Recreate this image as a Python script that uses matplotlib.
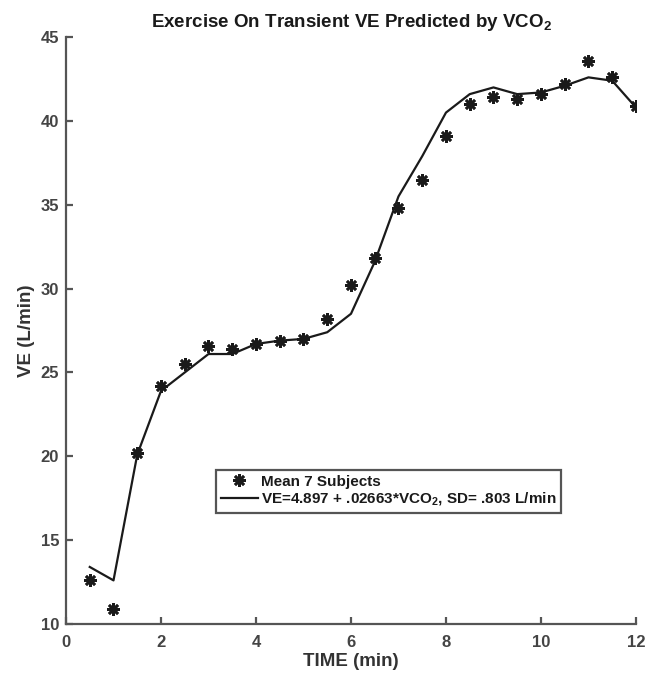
import matplotlib
matplotlib.use("Agg")
from matplotlib import pyplot as plt

plt.rcParams['font.family'] = ['Liberation Sans', 'DejaVu Sans']
plt.rcParams['mathtext.fontset'] = 'custom'
plt.rcParams['mathtext.rm'] = 'Liberation Sans:bold'
plt.rcParams['mathtext.bf'] = 'Liberation Sans:bold'

# time points (min)
time = [0.5, 1.0, 1.5, 2.0, 2.5, 3.0, 3.5, 4.0, 4.5, 5.0, 5.5, 6.0,
        6.5, 7.0, 7.5, 8.0, 8.5, 9.0, 9.5, 10.0, 10.5, 11.0, 11.5, 12.0]
# mean of 7 subjects (L/min)
ve_mean = [12.6, 10.9, 20.2, 24.2, 25.5, 26.6, 26.4, 26.7, 26.9, 27.0, 28.2, 30.2,
           31.8, 34.8, 36.5, 39.1, 41.0, 41.4, 41.3, 41.6, 42.2, 43.6, 42.6, 40.9]
# predicted by VCO2
ve_pred = [13.4, 12.6, 20.1, 23.9, 25.0, 26.1, 26.1, 26.7, 26.9, 27.0, 27.4, 28.5,
           31.6, 35.5, 37.9, 40.5, 41.6, 42.0, 41.6, 41.7, 42.1, 42.6, 42.4, 40.8]

grey = '#555555'
txt = '#333333'

fig = plt.figure(figsize=(6.6, 6.75), dpi=100)
ax = fig.add_axes([0.1, 0.0756, 0.8636, 0.8694])

ax.plot(time, ve_mean, linestyle='none', marker=(8, 2, 0), markersize=9,
        markeredgewidth=1.9, color='#1a1a1a', label='Mean 7 Subjects')
ax.plot(time, ve_pred, color='#1a1a1a', linewidth=1.6,
        label=r'VE=4.897 + .02663*VCO$_2$, SD= .803 L/min')

ax.set_xlim(0, 12)
ax.set_ylim(10, 45)
ax.set_xticks([0, 2, 4, 6, 8, 10, 12])
ax.set_yticks([10, 15, 20, 25, 30, 35, 40, 45])

# only left/bottom axis lines, ticks pointing inward
for s in ['top', 'right']:
    ax.spines[s].set_visible(False)
for s in ['left', 'bottom']:
    ax.spines[s].set_color(grey)
    ax.spines[s].set_linewidth(1.6)
ax.tick_params(direction='in', length=5, width=1.6, color=grey,
               labelcolor='#444444', labelsize=12)
ax.tick_params(axis='x', pad=8)
ax.tick_params(axis='y', pad=5)
for lab in ax.get_xticklabels() + ax.get_yticklabels():
    lab.set_fontweight('bold')

ax.set_xlabel('TIME (min)', fontsize=13.5, fontweight='bold', color=txt, labelpad=2)
ax.set_ylabel('VE (L/min)', fontsize=13.5, fontweight='bold', color=txt, labelpad=4)
ax.set_title(r'Exercise On Transient VE Predicted by VCO$_2$', fontsize=13.5,
             fontweight='bold', color='#1a1a1a', pad=7)

leg = ax.legend(loc='upper left', bbox_to_anchor=(0.264, 0.262), borderaxespad=0,
                prop={'weight': 'bold', 'size': 11}, fancybox=False,
                handlelength=2.4, handletextpad=0.2, labelspacing=0.15,
                borderpad=0.3, framealpha=1)
leg.get_frame().set_edgecolor(grey)
leg.get_frame().set_linewidth(1.6)
for t in leg.get_texts():
    t.set_color('#1a1a1a')

fig.savefig('out.png', dpi=100)
